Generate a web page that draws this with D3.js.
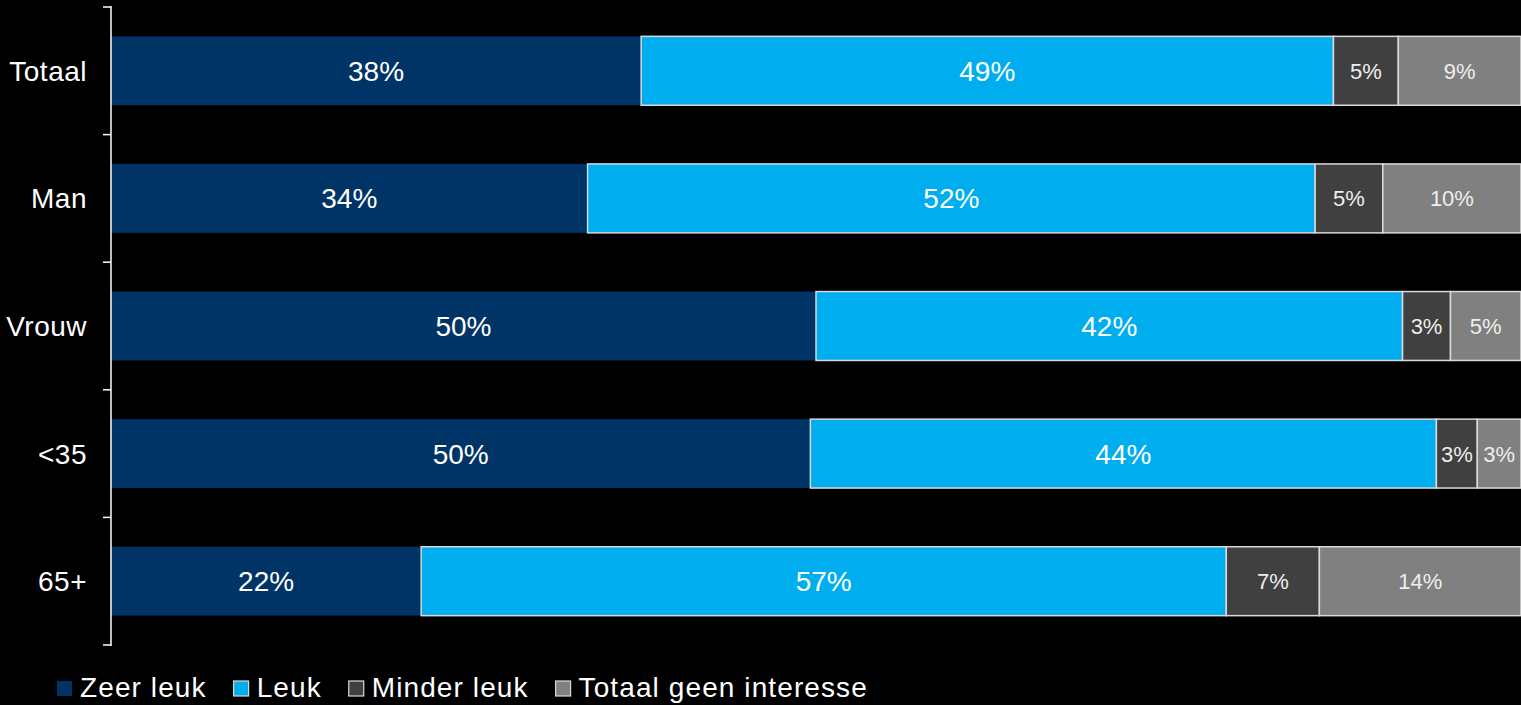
<!DOCTYPE html>
<html>
<head>
<meta charset="utf-8">
<script src="https://cdn.jsdelivr.net/npm/d3@7"></script>
<style>
  html, body { margin: 0; padding: 0; background: #000; }
  svg { display: block; font-family: Arial, "Liberation Sans", sans-serif; }
</style>
</head>
<body>
<svg id="chart" width="1521" height="705"></svg>
<script>
// ---- Data ----
const categories = ["Totaal", "Man", "Vrouw", "<35", "65+"];
const seriesNames = ["Zeer leuk", "Leuk", "Minder leuk", "Totaal geen interesse"];
const zeerLeuk   = [37.6, 33.8, 50.0, 49.6, 22.0];
const leuk       = [49.1, 51.6, 41.6, 44.4, 57.1];
const minderLeuk = [4.6, 4.8, 3.4, 2.9, 6.6];
const geenInteresse = [8.7, 9.8, 5.0, 3.1, 14.3];
const seriesColors = ["#003366", "#00AEEF", "#404040", "#808080"];

// ---- Build rows ----
const seriesValues = [zeerLeuk, leuk, minderLeuk, geenInteresse];
const rows = categories.map((c, i) => {
  const r = { cat: c };
  seriesNames.forEach((s, j) => r[s] = seriesValues[j][i]);
  return r;
});

const svg = d3.select("#chart");
const W = 1521, H = 705;
svg.append("rect").attr("width", W).attr("height", H).attr("fill", "#000");

const x = d3.scaleLinear().domain([0, 1]).range([111, 1521]);
const y = d3.scaleBand().domain(categories).range([7, 645]).paddingInner(0.46).paddingOuter(0.23);
const yb = d3.scaleBand().domain(categories).range([7, 645]); // full bands for ticks

const stack = d3.stack().keys(seriesNames).offset(d3.stackOffsetExpand);
const stacked = stack(rows);

const g = svg.append("g");
stacked.forEach((layer, j) => {
  const lg = g.append("g");
  lg.selectAll("rect").data(layer).join("rect")
    .attr("x", d => x(d[0]))
    .attr("y", d => y(d.data.cat))
    .attr("width", d => x(d[1]) - x(d[0]))
    .attr("height", y.bandwidth())
    .attr("fill", seriesColors[j])
    .attr("stroke", j === 0 ? "none" : "#d9d9d9")
    .attr("stroke-width", 1.5);
  lg.selectAll("text").data(layer).join("text")
    .attr("x", d => (x(d[0]) + x(d[1])) / 2)
    .attr("y", d => y(d.data.cat) + y.bandwidth() / 2)
    .attr("dy", "0.36em")
    .attr("text-anchor", "middle")
    .attr("fill", j < 2 ? "#ffffff" : "#eeeeee")
    .attr("font-size", j < 2 ? 28 : 22)
    .text(d => d3.format(".0f")(d.data[seriesNames[j]]) + "%");
});

// ---- Axis ----
const axisG = svg.append("g").attr("stroke", "#ffffff").attr("stroke-width", 1.5);
axisG.append("line").attr("x1", 111).attr("x2", 111).attr("y1", 6).attr("y2", 646);
const bounds = categories.map(c => yb(c)).concat([yb.range()[1]]);
axisG.selectAll("line.tick").data(bounds).join("line")
  .attr("class", "tick")
  .attr("x1", 103).attr("x2", 111)
  .attr("y1", d => d).attr("y2", d => d);

svg.append("g").selectAll("text").data(categories).join("text")
  .attr("x", 87)
  .attr("y", d => y(d) + y.bandwidth() / 2)
  .attr("dy", "0.36em")
  .attr("text-anchor", "end")
  .attr("fill", "#ffffff")
  .attr("font-size", 28)
  .attr("letter-spacing", 0.5)
  .text(d => d);

// ---- Legend ----
const legend = svg.append("g");
let lx = 57;
seriesNames.forEach((s, j) => {
  legend.append("rect")
    .attr("x", lx).attr("y", 681).attr("width", 15).attr("height", 15)
    .attr("fill", seriesColors[j])
    .attr("stroke", j === 0 ? "none" : "#d9d9d9")
    .attr("stroke-width", 1.2);
  const t = legend.append("text")
    .attr("x", lx + 23).attr("y", 697)
    .attr("fill", "#ffffff")
    .attr("font-size", 28)
    .attr("letter-spacing", 1.1)
    .text(s);
  const w = t.node().getComputedTextLength();
  lx = lx + 23 + w + 27;
});
</script>
</body>
</html>
